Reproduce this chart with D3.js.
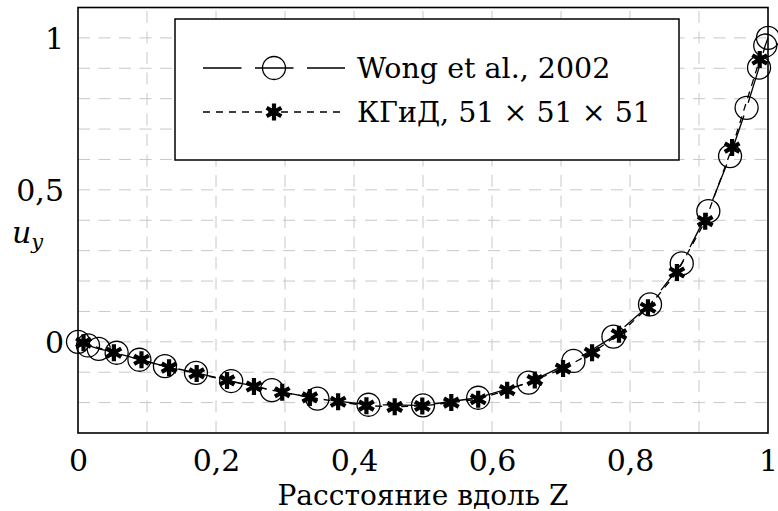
<!DOCTYPE html>
<html><head><meta charset="utf-8">
<script src="https://cdn.jsdelivr.net/npm/d3@7/dist/d3.min.js"></script>
<style>body{margin:0;background:#fff}svg{display:block}
svg text{font-family:"DejaVu Serif","Liberation Serif",serif;}</style>
</head><body><svg id="c" width="778" height="511"></svg>
<script>
// Wong et al., 2002 (open circles, solid)
const wongX = [0, 0.0145, 0.030, 0.056, 0.089, 0.126, 0.171, 0.222, 0.281, 0.347, 0.421, 0.500, 0.580, 0.653, 0.718, 0.776, 0.829, 0.875, 0.9135, 0.945, 0.969, 0.987, 0.996, 1.0];
const wongY = [0, -0.012, -0.023, -0.036, -0.059, -0.080, -0.102, -0.129, -0.159, -0.187, -0.207, -0.209, -0.184, -0.134, -0.063, 0.017, 0.123, 0.258, 0.430, 0.611, 0.770, 0.902, 0.975, 1.0];
// КГиД 51x51x51 (asterisks, dashed)
const kgX = [0.008, 0.052, 0.092, 0.132, 0.172, 0.216, 0.255, 0.296, 0.336, 0.377, 0.418, 0.459, 0.499, 0.541, 0.580, 0.622, 0.662, 0.703, 0.745, 0.784, 0.826, 0.868, 0.909, 0.948, 0.988];
const kgY = [-0.003, -0.036, -0.059, -0.085, -0.104, -0.127, -0.147, -0.166, -0.183, -0.197, -0.210, -0.214, -0.211, -0.200, -0.189, -0.159, -0.126, -0.088, -0.036, 0.025, 0.112, 0.228, 0.397, 0.639, 0.929];
const xTicks = [0, 0.2, 0.4, 0.6, 0.8, 1];
const yTicks = [0, 0.5, 1];
const legendLabels = ["Wong et al., 2002", "КГиД, 51 × 51 × 51"];
const xLabel = "Расстояние вдоль Z";

const svg = d3.select("#c");
const L = 78, R = 768, T = 7.5, B = 433;
const x = d3.scaleLinear().domain([0, 1]).range([L, R]);
const y = d3.scaleLinear().domain([-0.3, 1.1]).range([B, T]);
const fmt = d => String(+d.toFixed(2)).replace(".", ",");

// grid
const g = svg.append("g");
d3.range(1, 10).map(i => i / 10).forEach(v => {
  g.append("line").attr("x1", x(v)).attr("x2", x(v)).attr("y1", B).attr("y2", T);
});
d3.range(-2, 11).map(i => i / 10).forEach(v => {
  g.append("line").attr("x1", L).attr("x2", R).attr("y1", y(v)).attr("y2", y(v));
});
g.selectAll("line").attr("stroke", "#c8c8c8").attr("stroke-width", 1).attr("stroke-dasharray", "12,8.5");

// axes (labels only)
const ax = svg.append("g").attr("transform", `translate(0,${B})`)
  .call(d3.axisBottom(x).tickValues(xTicks).tickFormat(fmt).tickSize(0));
ax.attr("font-family", null).attr("font-size", null);
ax.select(".domain").remove();
ax.selectAll("text").attr("y", 38).attr("dy", 0).style("font-size", "30px").attr("fill", "#000");
const ay = svg.append("g").attr("transform", `translate(${L},0)`)
  .call(d3.axisLeft(y).tickValues(yTicks).tickFormat(fmt).tickSize(0));
ay.attr("font-family", null).attr("font-size", null);
ay.select(".domain").remove();
ay.selectAll("text").attr("x", -14).attr("dy", "0.36em").style("font-size", "30px").attr("fill", "#000");

svg.append("text").attr("x", (L + R) / 2).attr("y", 505).attr("text-anchor", "middle")
  .style("font-size", "28px").text(xLabel);
const yl = svg.append("text").attr("x", 12).attr("y", 243).attr("font-style", "italic").style("font-size", "30px");
yl.append("tspan").text("u");
yl.append("tspan").style("font-size", "21px").attr("dy", 6).text("y");

// data
const wong = wongX.map((v, i) => [v, wongY[i]]);
const kg = kgX.map((v, i) => [v, kgY[i]]);
const line = d3.line().x(d => x(d[0])).y(d => y(d[1]));
const WONG_DASH = "38.5,13.5", KG_DASH = "7,6";
svg.append("path").attr("d", line(wong)).attr("fill", "none").attr("stroke", "#000").attr("stroke-width", 1.3).attr("stroke-dasharray", WONG_DASH);
function circleMark(sel, cx, cy) {
  sel.append("circle").attr("cx", cx).attr("cy", cy).attr("r", 11.5).attr("fill", "none").attr("stroke", "#000").attr("stroke-width", 1.3);
}
function starMark(sel, cx, cy) {
  const r = 8.5;
  let d = "";
  [90, 30, 150].forEach(a => {
    const t = a * Math.PI / 180, dx = r * Math.cos(t), dy = r * Math.sin(t);
    d += `M${cx + dx},${cy - dy}L${cx - dx},${cy + dy}`;
  });
  sel.append("path").attr("d", d).attr("stroke", "#000").attr("stroke-width", 4.2).attr("fill", "none");
  sel.append("circle").attr("cx", cx).attr("cy", cy).attr("r", 4).attr("fill", "#000");
}
const wm = svg.append("g");
wong.forEach(d => circleMark(wm, x(d[0]), y(d[1])));
svg.append("path").attr("d", line(kg)).attr("fill", "none").attr("stroke", "#000").attr("stroke-width", 1.3).attr("stroke-dasharray", KG_DASH);
const km = svg.append("g");
kg.forEach(d => starMark(km, x(d[0]), y(d[1])));

// frame
svg.append("rect").attr("x", L).attr("y", T).attr("width", R - L).attr("height", B - T)
  .attr("fill", "none").attr("stroke", "#000").attr("stroke-width", 1.6);

// legend
const lg = svg.append("g");
lg.append("rect").attr("x", 175).attr("y", 19).attr("width", 504).attr("height", 141)
  .attr("fill", "#fff").attr("stroke", "#000").attr("stroke-width", 1.5);
const rows = [68, 112];
lg.append("line").attr("x1", 203).attr("x2", 345).attr("y1", rows[0]).attr("y2", rows[0])
  .attr("stroke", "#000").attr("stroke-width", 1.3).attr("stroke-dasharray", WONG_DASH);
circleMark(lg, 274, rows[0]);
lg.append("line").attr("x1", 203).attr("x2", 345).attr("y1", rows[1]).attr("y2", rows[1])
  .attr("stroke", "#000").attr("stroke-width", 1.3).attr("stroke-dasharray", KG_DASH);
starMark(lg, 274, rows[1]);
legendLabels.forEach((t, i) => {
  lg.append("text").attr("x", 357).attr("y", rows[i] + 10).style("font-size", "28.5px").text(t);
});
</script></body></html>
